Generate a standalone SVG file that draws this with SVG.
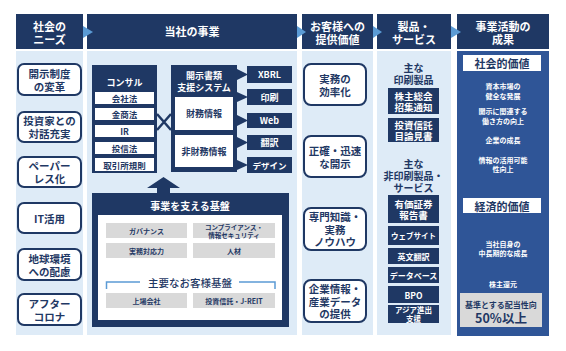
<svg xmlns="http://www.w3.org/2000/svg" width="566" height="351" viewBox="0 0 566 351">
<style>
text{font-family:"Noto Sans CJK JP","Noto Sans",sans-serif;font-weight:bold;text-anchor:middle;dominant-baseline:central}
.hd{fill:#1f3864}
.hdt{fill:#fff;font-size:11px}
.bg{fill:#deebf7}
.nd{fill:#fff;stroke:#1f3864;stroke-width:2}
.ndt{fill:#1f3864;font-size:10.5px}
.nv{fill:#1f3864}
.wt{fill:#fff}
.wtx{fill:#fff;font-size:9px}
.ntx{fill:#1f3864;font-size:8.5px}
.gr{fill:#d9d9d9}
.grt{fill:#1f3864;font-size:7px}
.arr{fill:#5b9bd5}
.sm{fill:#fff;font-size:7px}
.f10{font-size:10px}
.f95{font-size:9.5px}
.f9{font-size:9px}
.f8{font-size:8px}
.f85{font-size:8.5px}
.f75{font-size:7.5px}
.f65{font-size:6.5px}
</style>
<rect width="566" height="351" fill="#fff"/>
<g id="headers">
<rect class="hd" x="16" y="14" width="67" height="35"/>
<text class="hdt" x="49.5" y="25.5">社会の</text><text class="hdt" x="49.5" y="38.5">ニーズ</text>
<rect class="hd" x="87" y="14" width="210" height="35"/>
<text class="hdt" x="192" y="31">当社の事業</text>
<rect class="hd" x="302" y="14" width="71" height="35"/>
<text class="hdt" x="337.5" y="25.5">お客様への</text><text class="hdt" x="337.5" y="38.5">提供価値</text>
<rect class="hd" x="377" y="14" width="74" height="35"/>
<text class="hdt" x="414" y="25.5">製品・</text><text class="hdt" x="414" y="38.5">サービス</text>
<rect class="hd" x="457" y="14" width="92" height="35"/>
<text class="hdt" x="503" y="25.5">事業活動の</text><text class="hdt" x="503" y="38.5">成果</text>
</g>
<rect class="bg" x="16" y="51" width="67" height="284"/>
<rect class="bg" x="87" y="51" width="210" height="284"/>
<rect class="bg" x="302" y="51" width="71" height="284"/>
<rect class="bg" x="377" y="51" width="74" height="284"/>
<rect fill="#2f5597" x="457" y="51" width="92" height="285"/>
<g id="needs">
<g id="n1"><rect class="nd" x="18" y="64" width="63" height="31" rx="6"/><text class="ndt" x="49.5" y="73">開示制度</text><text class="ndt" x="49.5" y="86">の変革</text></g>
<g id="n2"><rect class="nd" x="18" y="112" width="63" height="30" rx="6"/><text class="ndt" x="49.5" y="120.5">投資家との</text><text class="ndt" x="49.5" y="133.5">対話充実</text></g>
<g id="n3"><rect class="nd" x="18" y="157" width="63" height="30" rx="6"/><text class="ndt" x="49.5" y="165.5">ペーパー</text><text class="ndt" x="49.5" y="178.5">レス化</text></g>
<g id="n4"><rect class="nd" x="18" y="203" width="63" height="30" rx="6"/><text class="ndt" x="49.5" y="218">IT活用</text></g>
<g id="n5"><rect class="nd" x="18" y="249" width="63" height="31" rx="6"/><text class="ndt" x="49.5" y="258">地球環境</text><text class="ndt" x="49.5" y="271">への配慮</text></g>
<g id="n6"><rect class="nd" x="18" y="294" width="63" height="31" rx="6"/><text class="ndt" x="49.5" y="303">アフター</text><text class="ndt" x="49.5" y="316">コロナ</text></g>
</g>
<g id="consul">
<rect class="nv" x="92" y="65" width="65" height="108"/>
<text class="wtx" x="124.5" y="82">コンサル</text>
<rect class="wt" x="95" y="92" width="59" height="12"/><text class="ntx" x="124.5" y="98">会社法</text>
<rect class="wt" x="95" y="108" width="59" height="12"/><text class="ntx" x="124.5" y="114">金商法</text>
<rect class="wt" x="95" y="125" width="59" height="12"/><text class="ntx" x="124.5" y="131">IR</text>
<rect class="wt" x="95" y="142" width="59" height="12"/><text class="ntx" x="124.5" y="148">投信法</text>
<rect class="wt" x="95" y="158" width="59" height="13"/><text class="ntx" x="124.5" y="164.5">取引所規則</text>
</g>
<g id="system">
<rect class="nv" x="171" y="65" width="66" height="107"/>
<text class="wtx" x="204" y="75.5">開示書類</text>
<text class="wtx" x="204" y="87">支援システム</text>
<rect class="wt" x="175" y="97" width="58" height="33"/><text class="ntx f9" x="204" y="113.5">財務情報</text>
<rect class="wt" x="175" y="135" width="58" height="32"/><text class="ntx f9" x="204" y="151">非財務情報</text>
</g>
<g id="outputs">
<g id="o1"><rect class="nv" x="247" y="66" width="45" height="17"/><text class="wtx" x="269.5" y="74.5">XBRL</text></g>
<g id="o2"><rect class="nv" x="247" y="89" width="45" height="16"/><text class="wtx" x="269.5" y="97">印刷</text></g>
<g id="o3"><rect class="nv" x="247" y="113" width="45" height="15"/><text class="wtx" x="269.5" y="120.5">Web</text></g>
<g id="o4"><rect class="nv" x="247" y="135" width="45" height="15"/><text class="wtx" x="269.5" y="142.5">翻訳</text></g>
<g id="o5"><rect class="nv" x="247" y="157" width="45" height="16"/><text class="wtx f85" x="269.5" y="165">デザイン</text></g>
</g>
<g id="foundation">
<rect class="nv" x="92" y="193" width="197" height="134"/>
<text class="wtx f10" x="190" y="205">事業を支える基盤</text>
<rect class="wt" x="98" y="215" width="184" height="105"/>
<rect class="gr" x="106" y="223" width="81" height="15"/><text class="grt" x="146.5" y="230.5">ガバナンス</text>
<rect class="gr" x="193" y="223" width="82" height="15"/><text class="grt f65" x="234" y="226.5">コンプライアンス・</text><text class="grt f65" x="234" y="234.5">情報セキュリティ</text>
<rect class="gr" x="106" y="243" width="81" height="15"/><text class="grt" x="146.5" y="250.5">実務対応力</text>
<rect class="gr" x="193" y="243" width="82" height="15"/><text class="grt" x="234" y="250.5">人材</text>
<path d="M106.5,289 V282 H140 M239,282 H275 V289" fill="none" stroke="#5b9bd5" stroke-width="1.5"/>
<text x="190" y="282" fill="#1f3864" style="font-size:10.5px;font-weight:500">主要なお客様基盤</text>
<rect class="gr" x="106" y="293" width="81" height="15"/><text class="grt" x="146.5" y="300.5">上場会社</text>
<rect class="gr" x="193" y="293" width="82" height="15"/><text class="grt" x="234" y="300.5">投資信託・J-REIT</text>
</g>
<g id="values">
<g id="v1"><rect class="nd" x="304" y="64" width="62" height="41" rx="7"/><text class="ndt" x="335" y="78.5">実務の</text><text class="ndt" x="335" y="91.5">効率化</text></g>
<g id="v2"><rect class="nd" x="304" y="136" width="62" height="41" rx="7"/><text class="ndt" x="335" y="150">正確・迅速</text><text class="ndt" x="335" y="163">な開示</text></g>
<g id="v3"><rect class="nd" x="304" y="208" width="62" height="42" rx="7"/><text class="ndt" x="335" y="216.5">専門知識・</text><text class="ndt" x="335" y="229">実務</text><text class="ndt" x="335" y="241.5">ノウハウ</text></g>
<g id="v4"><rect class="nd" x="304" y="280" width="62" height="42" rx="7"/><text class="ndt" x="335" y="288.5">企業情報・</text><text class="ndt" x="335" y="301">産業データ</text><text class="ndt" x="335" y="313.5">の提供</text></g>
</g>
<g id="products">
<text class="ntx f10" x="413.5" y="67">主な</text>
<text class="ntx f10" x="413.5" y="79">印刷製品</text>
<g id="p1"><rect class="nv" x="388" y="88" width="51" height="26"/><text class="wtx f95" x="413.5" y="95.5">株主総会</text><text class="wtx f95" x="413.5" y="106.5">招集通知</text></g>
<g id="p2"><rect class="nv" x="388" y="118" width="51" height="24"/><text class="wtx f95" x="413.5" y="124.5">投資信託</text><text class="wtx f95" x="413.5" y="135.5">目論見書</text></g>
<text class="ntx f10" x="413.5" y="163">主な</text>
<text class="ntx f10" x="413.5" y="175">非印刷製品・</text>
<text class="ntx f10" x="413.5" y="187">サービス</text>
<g id="p3"><rect class="nv" x="388" y="195" width="51" height="28"/><text class="wtx f95" x="413.5" y="203.5">有価証券</text><text class="wtx f95" x="413.5" y="214.5">報告書</text></g>
<g id="p4"><rect class="nv" x="388" y="226" width="51" height="19"/><text class="wtx f75" x="413.5" y="235.5">ウェブサイト</text></g>
<g id="p5"><rect class="nv" x="388" y="248" width="51" height="16"/><text class="wtx f8" x="413.5" y="256">英文翻訳</text></g>
<g id="p6"><rect class="nv" x="388" y="267" width="51" height="16"/><text class="wtx f8" x="413.5" y="275">データベース</text></g>
<g id="p7"><rect class="nv" x="388" y="286" width="51" height="17"/><text class="wtx f85" x="413.5" y="294.5">BPO</text></g>
<g id="p8"><rect class="nv" x="388" y="305" width="51" height="18"/><text class="wtx f75" x="413.5" y="309.5">アジア進出</text><text class="wtx f75" x="413.5" y="318">支援</text></g>
</g>
<g id="results">
<g id="r1"><rect class="wt" x="463" y="55" width="78" height="16"/><text class="ndt" x="502" y="63" style="font-size:11px">社会的価値</text></g>
<text class="sm" x="503" y="86">資本市場の</text><text class="sm" x="503" y="96">健全な発展</text>
<text class="sm" x="503" y="111">開示に関連する</text><text class="sm" x="503" y="121">働き方の向上</text>
<text class="sm" x="503" y="140">企業の成長</text>
<text class="sm" x="503" y="160">情報の活用可能</text><text class="sm" x="503" y="169">性向上</text>
<g id="r2"><rect class="wt" x="463" y="198" width="78" height="15"/><text class="ndt" x="502" y="205.5" style="font-size:11px">経済的価値</text></g>
<text class="sm" x="503" y="244">当社自身の</text><text class="sm" x="503" y="253">中長期的な成長</text>
<text class="sm" x="503" y="284">株主還元</text>
<g id="r3"><rect class="gr" x="460" y="293" width="82" height="34"/><text class="grt" x="501" y="304.5" style="font-size:8px">基準とする配当性向</text><text class="grt" x="501" y="317.5" style="font-size:12.5px">50%以上</text></g>
</g>
<g id="connectors">
<polygon class="arr" points="83,26 93,32 83,38"/>
<polygon class="arr" points="297,26 306,32 297,38"/>
<polygon class="arr" points="373,26 382,32 373,38"/>
<polygon class="arr" points="451,26 461,32 451,38"/>
<path d="M157,114 L171,130 M157,130 L171,114" stroke="#1f3864" stroke-width="2.5" fill="none"/>
<g class="nv">
<polygon points="237,69 248,74.5 237,80"/>
<polygon points="237,92 248,97 237,102"/>
<polygon points="237,115 248,120.5 237,126"/>
<polygon points="237,137 248,142.5 237,148"/>
<polygon points="237,160 248,165 237,170"/>
<polygon points="163.5,177 180,188 170,188 170,194 157,194 157,188 147,188"/>
</g>
</g>
</svg>
